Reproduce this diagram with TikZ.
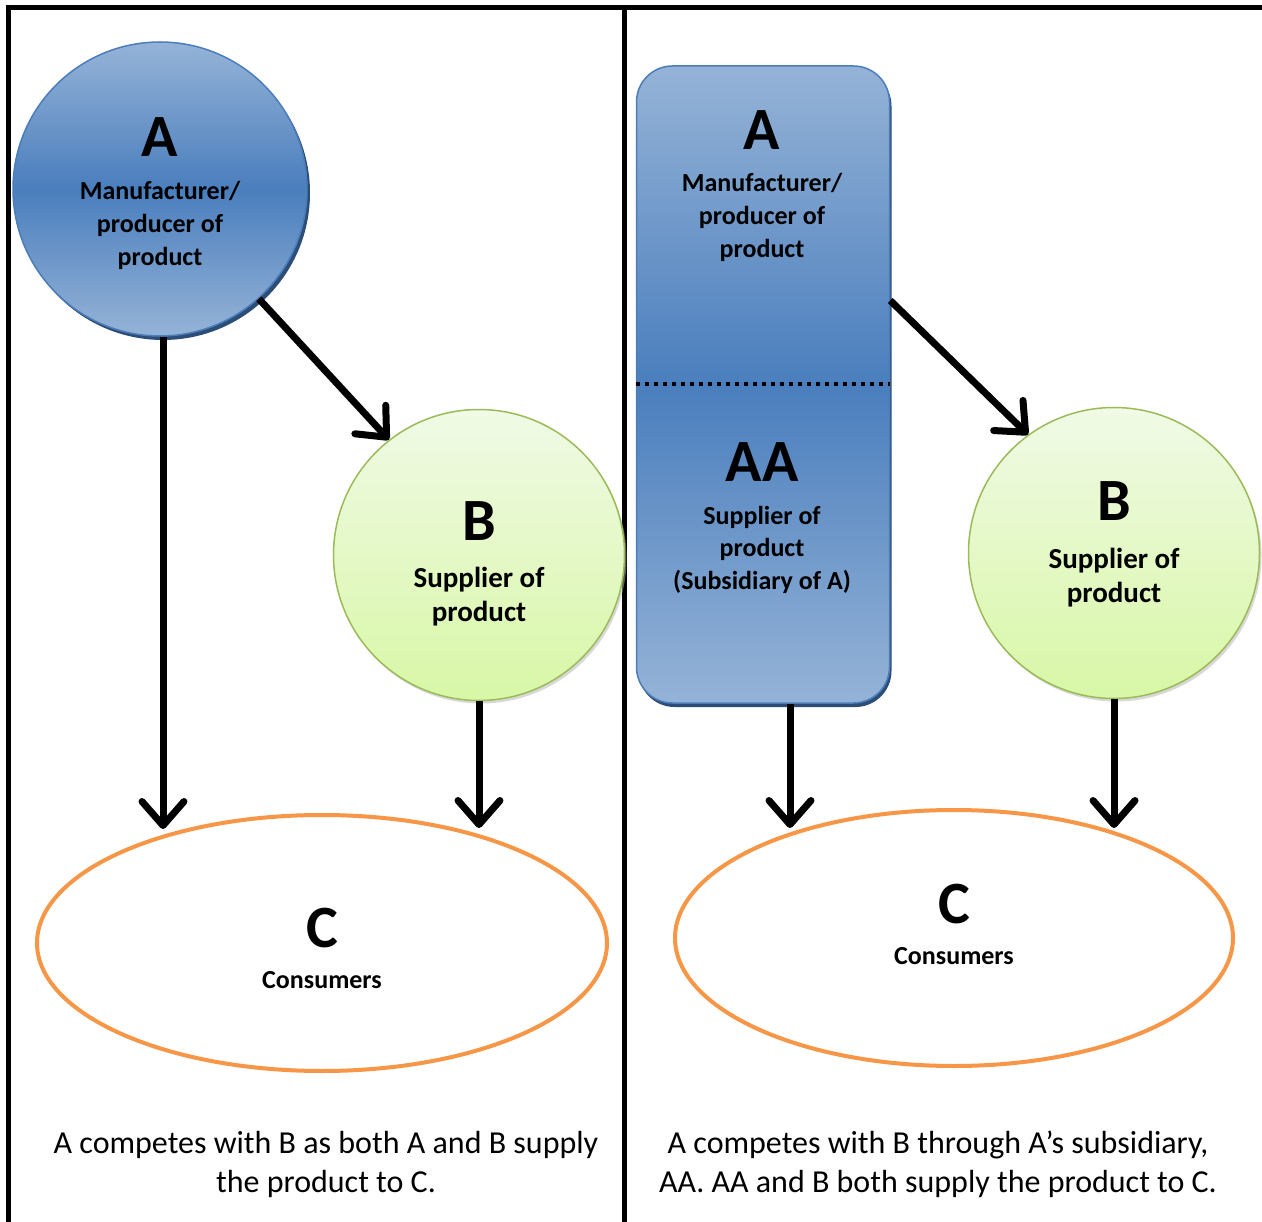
\documentclass[tikz,border=0pt]{standalone}
\usepackage{fontspec}
\setmainfont{Carlito}
\usetikzlibrary{arrows.meta,shapes.geometric,shadows}
\definecolor{blueLight}{HTML}{95B3D7}
\definecolor{blueDark}{HTML}{4A7EBD}
\definecolor{blueEdge}{HTML}{4A7DBA}
\definecolor{blueShade}{HTML}{2C4D75}
\definecolor{greenTop}{HTML}{F0FAE6}
\definecolor{greenBottom}{HTML}{D8F7A6}
\definecolor{greenEdge}{HTML}{9BBB59}
\definecolor{consOrange}{HTML}{F79646}
\begin{document}
\begin{tikzpicture}[x=1pt,y=-1pt,
    bluecirc/.style={circle,draw=blueEdge,line width=1.5pt,top color=blueLight,bottom color=blueLight,middle color=blueDark,minimum size=294pt,inner sep=0pt,drop shadow={shadow xshift=3pt,shadow yshift=-4pt,fill=blueShade,opacity=1}},
    bluebox/.style={rectangle,rounded corners=36pt,draw=blueEdge,line width=1.5pt,top color=blueLight,bottom color=blueLight,middle color=blueDark,minimum width=253pt,minimum height=637pt,inner sep=0pt,drop shadow={shadow xshift=2pt,shadow yshift=-4pt,fill=blueShade,opacity=1}},
    greencirc/.style={circle,draw=greenEdge,line width=1.5pt,top color=greenTop,bottom color=greenBottom,minimum size=291pt,inner sep=0pt,drop shadow={shadow xshift=2pt,shadow yshift=-3pt,fill=black!30,opacity=0.5}},
    consumer/.style={ellipse,draw=consOrange,line width=4pt,fill=white,minimum width=570pt,minimum height=256pt,inner sep=0pt},
    flow/.style={line width=7pt,-{Straight Barb[length=24pt,width=42pt,line width=7pt,round]}},
    frame/.style={line width=5pt},
    letter/.style={anchor=base,inner sep=0pt,font=\fontsize{60}{60}\selectfont\bfseries},
    role/.style={anchor=base,inner sep=0pt,align=center,font=\fontsize{26}{33}\selectfont\bfseries},
    rolebig/.style={anchor=base,inner sep=0pt,align=center,font=\fontsize{29}{34}\selectfont\bfseries},
    note/.style={anchor=base,inner sep=0pt,align=center,font=\fontsize{32}{39}\selectfont}]
  \useasboundingbox (0,0) rectangle (1262,1222);
  % frame
  \draw[frame] (8,1222) -- (8,8) -- (1262,8);
  \draw[frame] (624,8) -- (624,1222);
  % left panel
  \node[bluecirc] (A1) at (160,189) {};
  \node[greencirc] (B1) at (479,555) {};
  \node[consumer] (C1) at (322,943) {};
  \node[letter] (A1name) at (160,157) {A};
  \node[role] (A1role) at (160,266) {Manufacturer/\\producer of\\product};
  \node[letter] (B1name) at (479,540) {B};
  \node[rolebig] (B1role) at (479,621) {Supplier of\\product};
  \node[letter] (C1name) at (322,947) {C};
  \node[role] (C1role) at (322,988) {Consumers};
  \draw[flow] ([xshift=3pt]A1.south) -- ([xshift=3pt]A1.south |- C1.north) [shorten >=-16pt];
  \draw[flow] (A1.-48) -- (B1.128);
  \draw[flow] (B1.south) -- (B1.south |- C1.north) [shorten >=-15pt];
  \node[note] (note1) at (326,1192) {A competes with B as both A and B supply\\the product to C.};
  % right panel
  \node[bluebox] (A2) at (763,384.5) {};
  \draw[line width=4pt,dash pattern=on 4pt off 5pt] (A2.west) -- (A2.east);
  \node[greencirc] (B2) at (1114,553) {};
  \node[consumer,minimum width=558pt] (C2) at (954,938) {};
  \node[letter] (A2name) at (762,150) {A};
  \node[role] (A2role) at (762,258) {Manufacturer/\\producer of\\product};
  \node[letter] (AAname) at (762,482) {AA};
  \node[role] (AArole) at (762,590) {Supplier of\\product\\(Subsidiary of A)};
  \node[letter] (B2name) at (1114,521) {B};
  \node[rolebig] (B2role) at (1114,602) {Supplier of\\product};
  \node[letter] (C2name) at (954,923) {C};
  \node[role] (C2role) at (954,964) {Consumers};
  \draw[flow] ([yshift=84pt]A2.east) -- (B2.126);
  \draw[flow] ([xshift=27pt]A2.south) -- ([xshift=27pt]A2.south |- C2.north) [shorten >=-20pt];
  \draw[flow] (B2.south) -- (B2.south |- C2.north) [shorten >=-20pt];
  \node[note] (note2) at (938,1192) {A competes with B through A’s subsidiary,\\AA. AA and B both supply the product to C.};
\end{tikzpicture}
\end{document}
